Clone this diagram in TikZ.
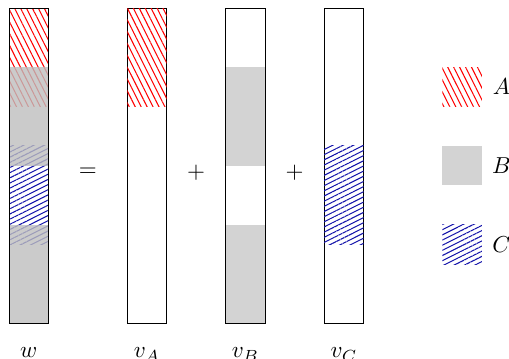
\documentclass[tikz,border=0pt]{standalone}
\usetikzlibrary{patterns.meta}

\definecolor{shadeB}{RGB}{211,211,211}
\definecolor{hatchC}{RGB}{20,20,170}

\begin{document}
\begin{tikzpicture}[x=3mm, y=3mm,
    bar/.style={draw, line width=0.4pt},
    partA/.style={pattern={Lines[angle=116.6, distance=2.3pt, line width=0.45pt]}, pattern color=red},
    partB/.style={fill=shadeB},
    partC/.style={pattern={Lines[angle=26.6, distance=2pt, line width=0.45pt]}, pattern color=hatchC},
    mixed/.style={fill=shadeB!90!black, fill opacity=0.8},
    label/.style={anchor=base}
]

\useasboundingbox (-0.46,-1.78) rectangle (25.38,16.41);

% w = sum of the three parts
\fill[partA] (0,11) rectangle (2,16);
\fill[partC] (0,4) rectangle (2,9);
\fill[mixed] (0,8) rectangle (2,13);
\fill[mixed] (0,0) rectangle (2,5);
\draw[bar] (0,0) rectangle (2,16);

% v_A
\draw[bar] (6,0) rectangle (8,16);
\fill[partA] (6,11) rectangle (8,16);

% v_B
\draw[bar] (11,0) rectangle (13,16);
\fill[partB] (11,8) rectangle (13,13);
\fill[partB] (11,0) rectangle (13,5);

% v_C
\draw[bar] (16,0) rectangle (18,16);
\fill[partC] (16,4) rectangle (18,9);

\node (eq) at (4,7.65) {$=$};
\node (plus1) at (9.5,7.65) {$+$};
\node (plus2) at (14.5,7.65) {$+$};

\node[label] (lw) at (1,-1.75) {$w$};
\node[label] (lvA) at (7,-1.75) {$v_A$};
\node[label] (lvB) at (12,-1.75) {$v_B$};
\node[label] (lvC) at (17,-1.75) {$v_C$};

% legend
\fill[partA] (22,11) rectangle (24,13);
\fill[partB] (22,7) rectangle (24,9);
\fill[partC] (22,3) rectangle (24,5);
\node (keyA) at (25,12) {$A$};
\node (keyB) at (25,8) {$B$};
\node (keyC) at (25,4) {$C$};

\end{tikzpicture}
\end{document}
